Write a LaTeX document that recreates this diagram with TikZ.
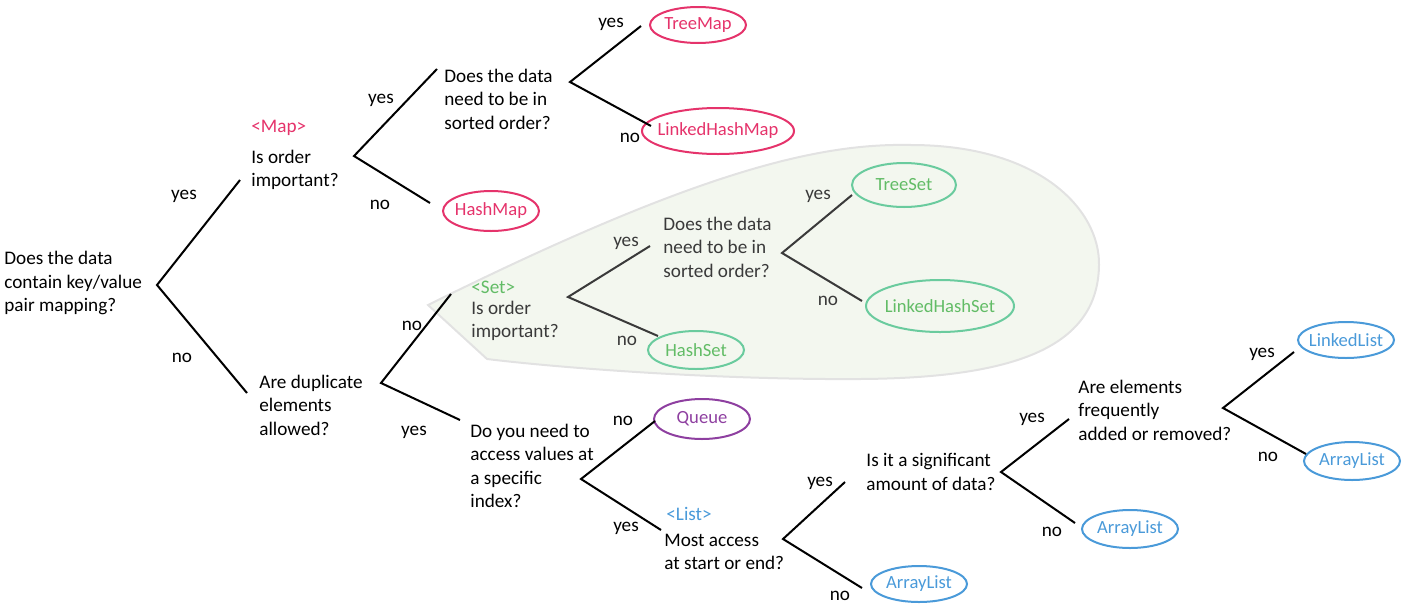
\documentclass[tikz,border=0pt]{standalone}
\usepackage{fontspec}
\setmainfont{Carlito}
\usepackage{xcolor}
\definecolor{maphong}{HTML}{E5336B}
\definecolor{setxanh}{HTML}{62BC66}
\definecolor{setvien}{HTML}{6ACB9E}
\definecolor{queuetim}{HTML}{8E3FA0}
\definecolor{listlam}{HTML}{4A9AD9}
\definecolor{nenla}{HTML}{F3F7EF}
\definecolor{vienla}{HTML}{E2E2E2}
\definecolor{chuxam}{HTML}{3A3A3A}
\usepackage{tikz}
\usetikzlibrary{shapes.geometric,positioning}

\begin{document}
\begin{tikzpicture}[x=0.5pt,y=-0.5pt]
		\tikzset{
			question/.style={anchor=west,align=left,inner sep=0pt,font=\fontsize{9.6}{11.75}\selectfont},
			answer/.style={inner sep=0pt,font=\fontsize{9.6}{11.75}\selectfont},
			tag/.style={anchor=west,inner sep=0pt,font=\fontsize{9.6}{11.75}\selectfont},
			leaf/.style={ellipse,draw,line width=1pt,inner sep=0pt,font=\fontsize{9.3}{11.75}\selectfont},
			branch/.style={line width=1pt}
		}
		\useasboundingbox (0,0) rectangle (1407,611);
		%% the Set region
		\path[fill=nenla,draw=vienla,line width=1pt] (428,305) .. controls (700,170) and (820,143) .. (911,145)
			.. controls (1040,145) and (1100,210) .. (1099,265)
			.. controls (1098,345) and (1020,378) .. (860,379)
			.. controls (720,380) and (560,368) .. (487,359) -- cycle;
		%% questions
		\node[question] (q0) at (4,283) {Does the data\\contain key/value\\pair mapping?};
		\node[tag,text=maphong] (maptag) at (251,128) {<Map>};
		\node[question] (q1) at (251,170) {Is order\\important?};
		\node[question] (q2) at (444,99) {Does the data\\need to be in\\sorted order?};
		\node[tag,text=setxanh] (settag) at (471,287) {<Set>};
		\node[question,text=chuxam] (q3) at (471,321) {Is order\\important?};
		\node[question,text=chuxam] (q4) at (663,247) {Does the data\\need to be in\\sorted order?};
		\node[question] (q5) at (259,405) {Are duplicate\\elements\\allowed?};
		\node[question] (q6) at (470,466) {Do you need to\\access values at\\a specific\\index?};
		\node[tag,text=listlam] (listtag) at (666,514) {<List>};
		\node[question] (q7) at (664,552) {Most access\\at start or end?};
		\node[question] (q8) at (866,472) {Is it a significant\\amount of data?};
		\node[question] (q9) at (1078,410) {Are elements\\frequently\\added or removed?};
		%% leaves
		\foreach \n/\x/\y/\w/\h/\c/\d/\t in {treemap/698/25/48pt/18pt/maphong/maphong/TreeMap,
			lhmap/718/131/76pt/23pt/maphong/maphong/LinkedHashMap,
			hashmap/491/211/48pt/20pt/maphong/maphong/HashMap,
			treeset/904/185/52pt/22pt/setvien/setxanh/TreeSet,
			lhset/940/306/74pt/26pt/setvien/setxanh/LinkedHashSet,
			hashset/696/350/48pt/19pt/setvien/setxanh/HashSet,
			queue/702/419/48pt/20pt/queuetim/queuetim/Queue,
			arr1/919/584/48pt/18pt/listlam/listlam/ArrayList,
			arr2/1130/529/48pt/19pt/listlam/listlam/ArrayList,
			linkedlist/1346/340/48pt/18pt/listlam/listlam/LinkedList,
			arr3/1352/461/48pt/19pt/listlam/listlam/ArrayList}{%
			\node[leaf,draw=\c,text=\d,minimum width=\w,minimum height=\h] (\n) at (\x,\y) {\makebox[0pt]{\t}};
		}
		%% branch points and ends
		\foreach \i/\vx/\vy/\yx/\yy/\nx/\ny in {0/157/285/240/180/247/393,
			1/354/156/437/69/430/203,
			2/570/82/641/26/651/126,
			3/568/297/650/246/658/336,
			4/782/253/852/195/862/301,
			5/381/383/460/420/451/294,
			6/581/479/661/530/655/421,
			7/783/539/845/482/862/588,
			8/1001/472/1069/419/1075/523,
			9/1223/408/1294/352/1306/454}{%
			\coordinate (v\i) at (\vx,\vy);
			\coordinate (y\i) at (\yx,\yy);
			\coordinate (n\i) at (\nx,\ny);
		}
		\foreach \i in {0,1,2,5,6,7,8,9}{
			\draw[branch] (y\i) -- (v\i) -- (n\i);
		}
		\foreach \i in {3,4}{
			\draw[branch,chuxam] (y\i) -- (v\i) -- (n\i);
		}
		%% yes / no
		\foreach \i/\yx/\yy/\nx/\ny/\c in {0/184/196/182/358/black,
			1/381/100/380/205/black,
			2/611/24/630/138/black,
			3/626/243/627/341/chuxam,
			4/818/196/828/301/chuxam,
			5/414/432/412/326/black,
			6/626/528/623/421/black,
			7/820/483/840/596/black,
			8/1032/419/1052/532/black,
			9/1262/354/1268/457/black}{%
			\node[answer,text=\c] (ly\i) at (\yx,\yy) {yes};
			\node[answer,text=\c] (ln\i) at (\nx,\ny) {no};
		}
	\end{tikzpicture}
\end{document}
